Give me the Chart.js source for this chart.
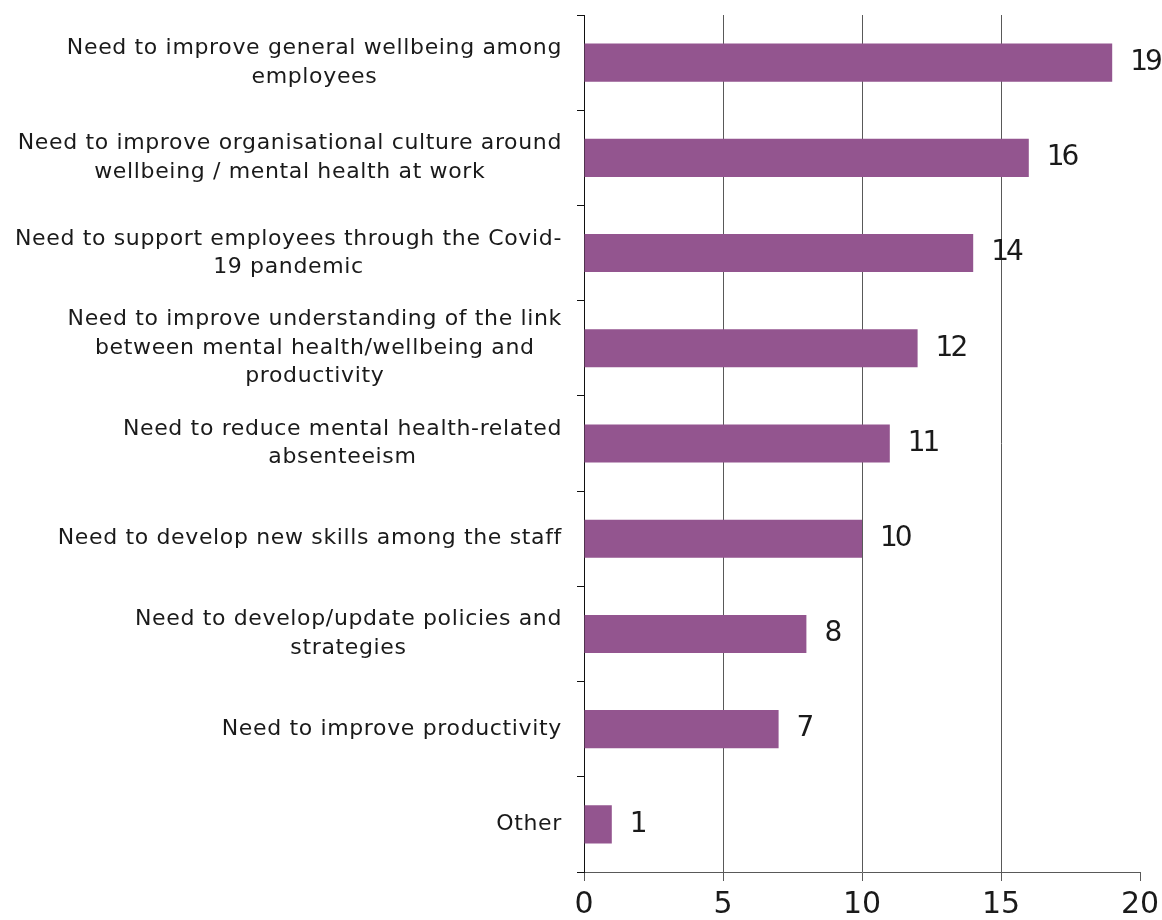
<!DOCTYPE html>
<html>
<head>
<meta charset="utf-8">
<script src="https://cdn.jsdelivr.net/npm/chart.js@4"></script>
<style>
  html, body { margin: 0; padding: 0; background: #fff; }
  #wrap { width: 1162px; height: 920px; position: relative; }
</style>
</head>
<body>
<div id="wrap"><canvas id="chart" width="1162" height="920"></canvas></div>
<script>
const categories = [
  ["Need to improve general wellbeing among", "employees"],
  ["Need to improve organisational culture around", "wellbeing / mental health at work"],
  ["Need to support employees through the Covid-", "19 pandemic"],
  ["Need to improve understanding of the link", "between mental health/wellbeing and", "productivity"],
  ["Need to reduce mental health-related", "absenteeism"],
  ["Need to develop new skills among the staff"],
  ["Need to develop/update policies and", "strategies"],
  ["Need to improve productivity"],
  ["Other"]
];
const values = [19, 16, 14, 12, 11, 10, 8, 7, 1];
const xTicks = [0, 5, 10, 15, 20];

const FONT = "'DejaVu Sans', sans-serif";
const BAR = "#93558f";
const GRID = "#595959";

// category labels: lines centred on each other, block right-aligned to the axis
const categoryLabels = {
  id: "categoryLabels",
  afterDraw(chart) {
    const ctx = chart.ctx;
    const y = chart.scales.y;
    const right = chart.chartArea.left - 22;
    const lh = 28.5;
    ctx.save();
    ctx.font = "22px " + FONT;
    ctx.letterSpacing = "0.65px";
    ctx.fillStyle = "#1a1a1a";
    ctx.textAlign = "center";
    ctx.textBaseline = "middle";
    categories.forEach((lines, i) => {
      const cy = y.getPixelForTick(i);
      const w = Math.max(...lines.map(l => ctx.measureText(l).width));
      const cx = right - w / 2;
      const y0 = cy - (lines.length - 1) * lh / 2;
      lines.forEach((l, j) => ctx.fillText(l, cx, y0 + j * lh));
    });
    ctx.letterSpacing = "0px";
    ctx.restore();
  }
};

// value printed just past the end of each bar
const valueLabels = {
  id: "valueLabels",
  afterDatasetsDraw(chart) {
    const ctx = chart.ctx;
    const meta = chart.getDatasetMeta(0);
    ctx.save();
    ctx.font = "28px " + FONT;
    ctx.letterSpacing = "-3px";
    ctx.fillStyle = "#1a1a1a";
    ctx.textAlign = "left";
    ctx.textBaseline = "middle";
    meta.data.forEach((bar, i) => {
      ctx.fillText(String(values[i]), bar.x + 18, bar.y);
    });
    ctx.letterSpacing = "0px";
    ctx.restore();
  }
};

new Chart(document.getElementById("chart"), {
  type: "bar",
  data: {
    labels: categories,
    datasets: [{
      data: values,
      backgroundColor: BAR,
      barPercentage: 0.4,
      categoryPercentage: 1
    }]
  },
  options: {
    indexAxis: "y",
    responsive: false,
    animation: false,
    layout: { padding: { top: 15, right: 22, left: 0, bottom: 0 } },
    plugins: { legend: { display: false }, tooltip: { enabled: false } },
    scales: {
      x: {
        min: 0,
        max: 20,
        afterBuildTicks(scale) { scale.ticks = xTicks.map(v => ({ value: v })); },
        grid: {
          // no line at the far right end, only its tick mark
          color: c => (c.tick && c.tick.value === 20 ? "rgba(0,0,0,0)" : GRID),
          tickColor: GRID,
          lineWidth: 1,
          tickLength: 9
        },
        border: { color: GRID, width: 1 },
        ticks: { font: { family: FONT, size: 30 }, color: "#1a1a1a", padding: 6 },
        afterFit(scale) { scale.height = 48; scale.paddingRight = 0; }
      },
      y: {
        grid: { drawOnChartArea: false, drawTicks: true, tickLength: 7, color: "#111", offset: true },
        border: { color: "#111", width: 1 },
        ticks: { callback: () => "" },
        afterFit(scale) { scale.width = 584; }
      }
    }
  },
  plugins: [categoryLabels, valueLabels]
});
</script>
</body>
</html>
